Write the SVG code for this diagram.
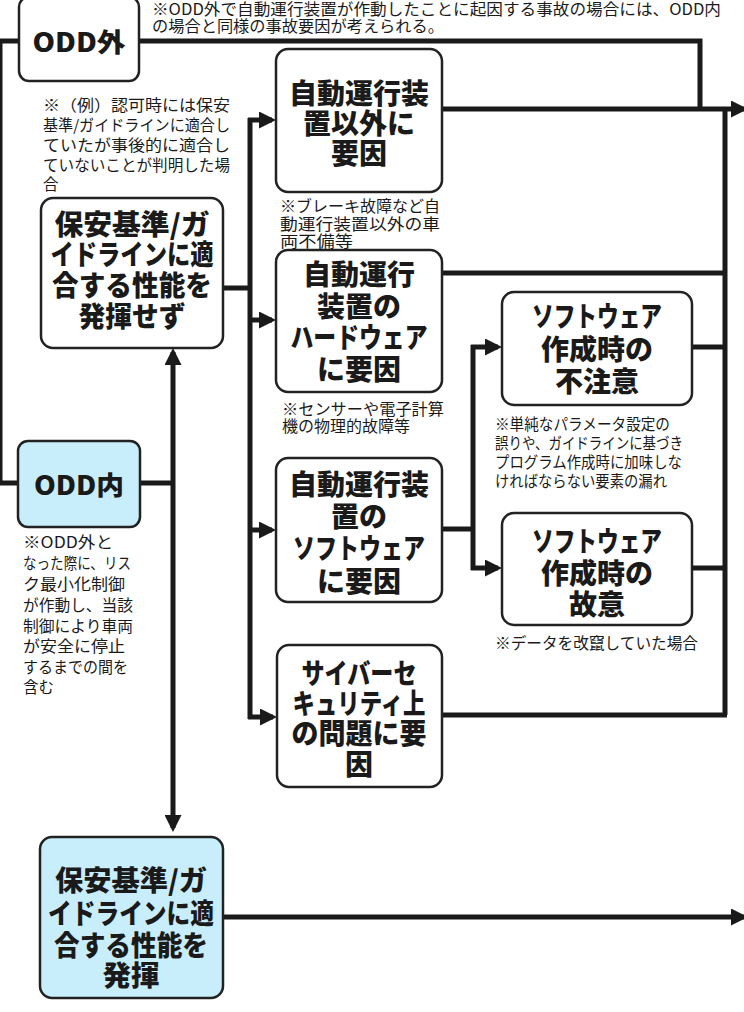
<svg xmlns="http://www.w3.org/2000/svg" width="744" height="1012" viewBox="0 0 744 1012">
<style>
.box{fill:#ffffff;stroke:#222222;stroke-width:2.5}
.blue{fill:#c9eefb}
.b{font-family:"Noto Sans CJK JP","Noto Sans",sans-serif;font-weight:900;font-size:28px;fill:#1a1a1a;text-anchor:middle;dominant-baseline:central}
.n{font-family:"Noto Sans CJK JP","Noto Sans",sans-serif;font-weight:400;font-size:15.5px;fill:#1a1a1a;dominant-baseline:central}
.ln{fill:none;stroke:#1a1a1a;stroke-width:5}
</style>
<defs>
<marker id="ah" markerUnits="userSpaceOnUse" markerWidth="17" markerHeight="17" refX="13" refY="8.5" orient="auto-start-reverse">
<path d="M0,0 L17,8.5 L0,17 Z" fill="#1a1a1a"/>
</marker>
</defs>

<g id="connectors">
<path class="ln" d="M19,41 H0 V483 H18"/>
<path class="ln" d="M139,41 H700 V109"/>
<path class="ln" d="M442,109 H744" marker-end="url(#ah)"/>
<path class="ln" d="M725,109 V715"/>
<path class="ln" d="M442,273 H725"/>
<path class="ln" d="M692,347 H725"/>
<path class="ln" d="M692,568 H725"/>
<path class="ln" d="M442,715 H727"/>
<path class="ln" d="M223,288 H250"/>
<path class="ln" d="M250,118 V719"/>
<path class="ln" d="M248,120 H272" marker-end="url(#ah)"/>
<path class="ln" d="M248,320 H272" marker-end="url(#ah)"/>
<path class="ln" d="M248,530 H272" marker-end="url(#ah)"/>
<path class="ln" d="M248,717 H273" marker-end="url(#ah)"/>
<path class="ln" d="M442,529 H473"/>
<path class="ln" d="M473,345 V570"/>
<path class="ln" d="M471,347 H498" marker-end="url(#ah)"/>
<path class="ln" d="M471,568 H498" marker-end="url(#ah)"/>
<path class="ln" d="M140,483 H173"/>
<path class="ln" d="M173,352 V828" marker-start="url(#ah)" marker-end="url(#ah)"/>
<path class="ln" d="M223,917 H744" marker-end="url(#ah)"/>
</g>

<g id="note-top">
<text class="n" x="152" y="8" textLength="569" lengthAdjust="spacingAndGlyphs">※ODD外で自動運行装置が作動したことに起因する事故の場合には、ODD内</text>
<text class="n" x="152" y="25" textLength="292" lengthAdjust="spacingAndGlyphs">の場合と同様の事故要因が考えられる。</text>
</g>

<g id="node-odd-out">
<rect class="box" x="19" y="-3" width="120" height="84" rx="10"/>
<text class="b" x="79" y="40" style="font-size:26px" textLength="93" lengthAdjust="spacingAndGlyphs">ODD外</text>
</g>

<g id="note-odd-out">
<text class="n" x="43" y="104" textLength="187" lengthAdjust="spacingAndGlyphs">※（例）認可時には保安</text>
<text class="n" x="43" y="124" textLength="187" lengthAdjust="spacingAndGlyphs">基準/ガイドラインに適合し</text>
<text class="n" x="43" y="144" textLength="187" lengthAdjust="spacingAndGlyphs">ていたが事後的に適合し</text>
<text class="n" x="43" y="164" textLength="187" lengthAdjust="spacingAndGlyphs">ていないことが判明した場</text>
<text class="n" x="43" y="183">合</text>
</g>

<g id="node-noncompliant">
<rect class="box" x="41" y="198" width="182" height="150" rx="12"/>
<text class="b" x="132" y="223" textLength="155" lengthAdjust="spacingAndGlyphs">保安基準/ガ</text>
<text class="b" x="132" y="253" textLength="163" lengthAdjust="spacingAndGlyphs">イドラインに適</text>
<text class="b" x="132" y="284" textLength="160" lengthAdjust="spacingAndGlyphs">合する性能を</text>
<text class="b" x="132" y="315" textLength="107" lengthAdjust="spacingAndGlyphs">発揮せず</text>
</g>

<g id="node-odd-in">
<rect class="box blue" x="18" y="441" width="122" height="86" rx="10"/>
<text class="b" x="79" y="483" style="font-size:26px" textLength="90" lengthAdjust="spacingAndGlyphs">ODD内</text>
</g>

<g id="note-odd-in">
<text class="n" x="23" y="541" textLength="90" lengthAdjust="spacingAndGlyphs">※ODD外と</text>
<text class="n" x="23" y="562" textLength="108" lengthAdjust="spacingAndGlyphs">なった際に、リス</text>
<text class="n" x="23" y="583" textLength="102" lengthAdjust="spacingAndGlyphs">ク最小化制御</text>
<text class="n" x="23" y="604" textLength="110" lengthAdjust="spacingAndGlyphs">が作動し、当該</text>
<text class="n" x="23" y="625" textLength="110" lengthAdjust="spacingAndGlyphs">制御により車両</text>
<text class="n" x="23" y="645" textLength="102" lengthAdjust="spacingAndGlyphs">が安全に停止</text>
<text class="n" x="23" y="666" textLength="105" lengthAdjust="spacingAndGlyphs">するまでの間を</text>
<text class="n" x="23" y="686">含む</text>
</g>

<g id="node-compliant">
<rect class="box blue" x="40" y="837" width="183" height="161" rx="12"/>
<text class="b" x="131" y="879" textLength="152" lengthAdjust="spacingAndGlyphs">保安基準/ガ</text>
<text class="b" x="131" y="912" textLength="166" lengthAdjust="spacingAndGlyphs">イドラインに適</text>
<text class="b" x="131" y="944" textLength="154" lengthAdjust="spacingAndGlyphs">合する性能を</text>
<text class="b" x="131" y="974" textLength="57" lengthAdjust="spacingAndGlyphs">発揮</text>
</g>

<g id="node-other-than-device">
<rect class="box" x="276" y="49" width="166" height="143" rx="12"/>
<text class="b" x="359" y="92">自動運行装</text>
<text class="b" x="359" y="122">置以外に</text>
<text class="b" x="359" y="152">要因</text>
</g>

<g id="note-other-than-device">
<text class="n" x="280" y="205" textLength="160" lengthAdjust="spacingAndGlyphs">※ブレーキ故障など自</text>
<text class="n" x="280" y="223" textLength="160" lengthAdjust="spacingAndGlyphs">動運行装置以外の車</text>
<text class="n" x="280" y="240" textLength="73" lengthAdjust="spacingAndGlyphs">両不備等</text>
</g>

<g id="node-hardware">
<rect class="box" x="276" y="250" width="166" height="142" rx="12"/>
<text class="b" x="359" y="273">自動運行</text>
<text class="b" x="359" y="305">装置の</text>
<text class="b" x="359" y="336" textLength="137" lengthAdjust="spacingAndGlyphs">ハードウェア</text>
<text class="b" x="359" y="368">に要因</text>
</g>

<g id="note-hardware">
<text class="n" x="282" y="408" textLength="162" lengthAdjust="spacingAndGlyphs">※センサーや電子計算</text>
<text class="n" x="282" y="425" textLength="128" lengthAdjust="spacingAndGlyphs">機の物理的故障等</text>
</g>

<g id="node-software">
<rect class="box" x="276" y="458" width="166" height="144" rx="12"/>
<text class="b" x="359" y="483">自動運行装</text>
<text class="b" x="359" y="515">置の</text>
<text class="b" x="359" y="547" textLength="132" lengthAdjust="spacingAndGlyphs">ソフトウェア</text>
<text class="b" x="359" y="580">に要因</text>
</g>

<g id="node-cyber">
<rect class="box" x="277" y="645" width="165" height="142" rx="12"/>
<text class="b" x="359" y="672" textLength="115" lengthAdjust="spacingAndGlyphs">サイバーセ</text>
<text class="b" x="359" y="702" textLength="133" lengthAdjust="spacingAndGlyphs">キュリティ上</text>
<text class="b" x="359" y="732" textLength="135" lengthAdjust="spacingAndGlyphs">の問題に要</text>
<text class="b" x="359" y="763">因</text>
</g>

<g id="node-sw-careless">
<rect class="box" x="502" y="292" width="190" height="113" rx="12"/>
<text class="b" x="597" y="315" textLength="130" lengthAdjust="spacingAndGlyphs">ソフトウェア</text>
<text class="b" x="597" y="348">作成時の</text>
<text class="b" x="597" y="380">不注意</text>
</g>

<g id="note-sw-careless">
<text class="n" x="495" y="423" textLength="175" lengthAdjust="spacingAndGlyphs">※単純なパラメータ設定の</text>
<text class="n" x="495" y="442" textLength="188" lengthAdjust="spacingAndGlyphs">誤りや、ガイドラインに基づき</text>
<text class="n" x="495" y="461" textLength="187" lengthAdjust="spacingAndGlyphs">プログラム作成時に加味しな</text>
<text class="n" x="495" y="480" textLength="172" lengthAdjust="spacingAndGlyphs">ければならない要素の漏れ</text>
</g>

<g id="node-sw-intentional">
<rect class="box" x="502" y="513" width="190" height="112" rx="12"/>
<text class="b" x="597" y="540" textLength="130" lengthAdjust="spacingAndGlyphs">ソフトウェア</text>
<text class="b" x="597" y="572">作成時の</text>
<text class="b" x="597" y="603">故意</text>
</g>

<g id="note-sw-intentional">
<text class="n" x="495" y="642" textLength="203" lengthAdjust="spacingAndGlyphs">※データを改竄していた場合</text>
</g>
</svg>
